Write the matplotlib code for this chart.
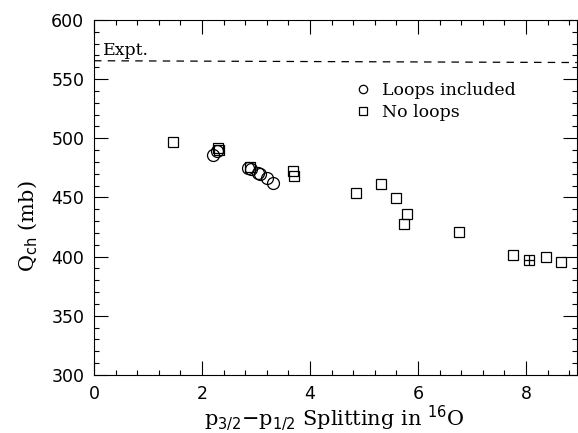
import numpy as np
import matplotlib
matplotlib.use('Agg')
import matplotlib.pyplot as plt
from matplotlib.ticker import MultipleLocator

# Data
loops_x = [2.21, 2.27, 2.86, 2.90, 3.04, 3.08, 3.21, 3.31]
loops_y = [486.0, 489.0, 475.0, 474.0, 471.0, 469.5, 466.3, 462.0]

noloops_x = [1.46, 2.30, 2.32, 2.88, 3.69, 3.70, 4.86, 5.31, 5.59, 5.79, 5.74,
             6.75, 7.75, 8.06, 8.37, 8.65]
noloops_y = [496.7, 492.1, 490.0, 475.6, 472.4, 468.2, 453.6, 461.2, 449.4, 436.1,
             427.6, 420.6, 401.4, 397.2, 399.5, 395.8]

crossed_x = [8.06]
crossed_y = [397.2]

expt_x = [0.0, 8.94]
expt_y = [565.5, 564.0]

serif = 'DejaVu Serif'
sans = 'DejaVu Sans'

fig = plt.figure(figsize=(5.78, 4.33), dpi=100)
ax = fig.add_axes([0.1626, 0.134, 0.8354, 0.820])

ax.plot(expt_x, expt_y, ls=(0, (6, 5)), color='black', lw=0.9)
ax.text(0.17, 574, 'Expt.', fontfamily=serif, fontsize=12.5, va='center')

ax.plot(loops_x, loops_y, ls='none', marker='o', ms=8.6, mfc='none',
        mec='black', mew=0.9, label='Loops included')
ax.plot(noloops_x, noloops_y, ls='none', marker='s', ms=7.9, mfc='none',
        mec='black', mew=0.9, label='No loops')
ax.plot(crossed_x, crossed_y, ls='none', marker='+', ms=7.9, mec='black', mew=0.9)

leg = ax.legend(loc='upper left', bbox_to_anchor=(0.51, 0.87), frameon=False,
                markerscale=0.7, handlelength=0.8, handletextpad=0.7,
                labelspacing=0.3, prop={'family': serif, 'size': 12.5})

ax.set_xlim(0, 8.94)
ax.set_ylim(300, 600)
ax.xaxis.set_major_locator(MultipleLocator(2))
ax.xaxis.set_minor_locator(MultipleLocator(0.4))
ax.yaxis.set_major_locator(MultipleLocator(50))
ax.yaxis.set_minor_locator(MultipleLocator(10))
ax.tick_params(which='both', direction='in', top=True, right=True, width=0.8)
ax.tick_params(which='major', length=10, pad=7, labelsize=12.5)
ax.tick_params(which='minor', length=3.6)
for lab in ax.get_xticklabels() + ax.get_yticklabels():
    lab.set_fontfamily(sans)
for sp in ax.spines.values():
    sp.set_linewidth(0.8)

ax.set_xlabel(r'p$_{3/2}$$-$p$_{1/2}$ Splitting in $^{16}$O',
              fontfamily=serif, fontsize=15)
ax.set_ylabel(r'Q$_{\rm ch}$ (mb)', fontfamily=serif, fontsize=15)
ax.xaxis.set_label_coords(0.497, -0.082)
ax.yaxis.set_label_coords(-0.112, 0.42)

fig.savefig('out.png', dpi=100)
